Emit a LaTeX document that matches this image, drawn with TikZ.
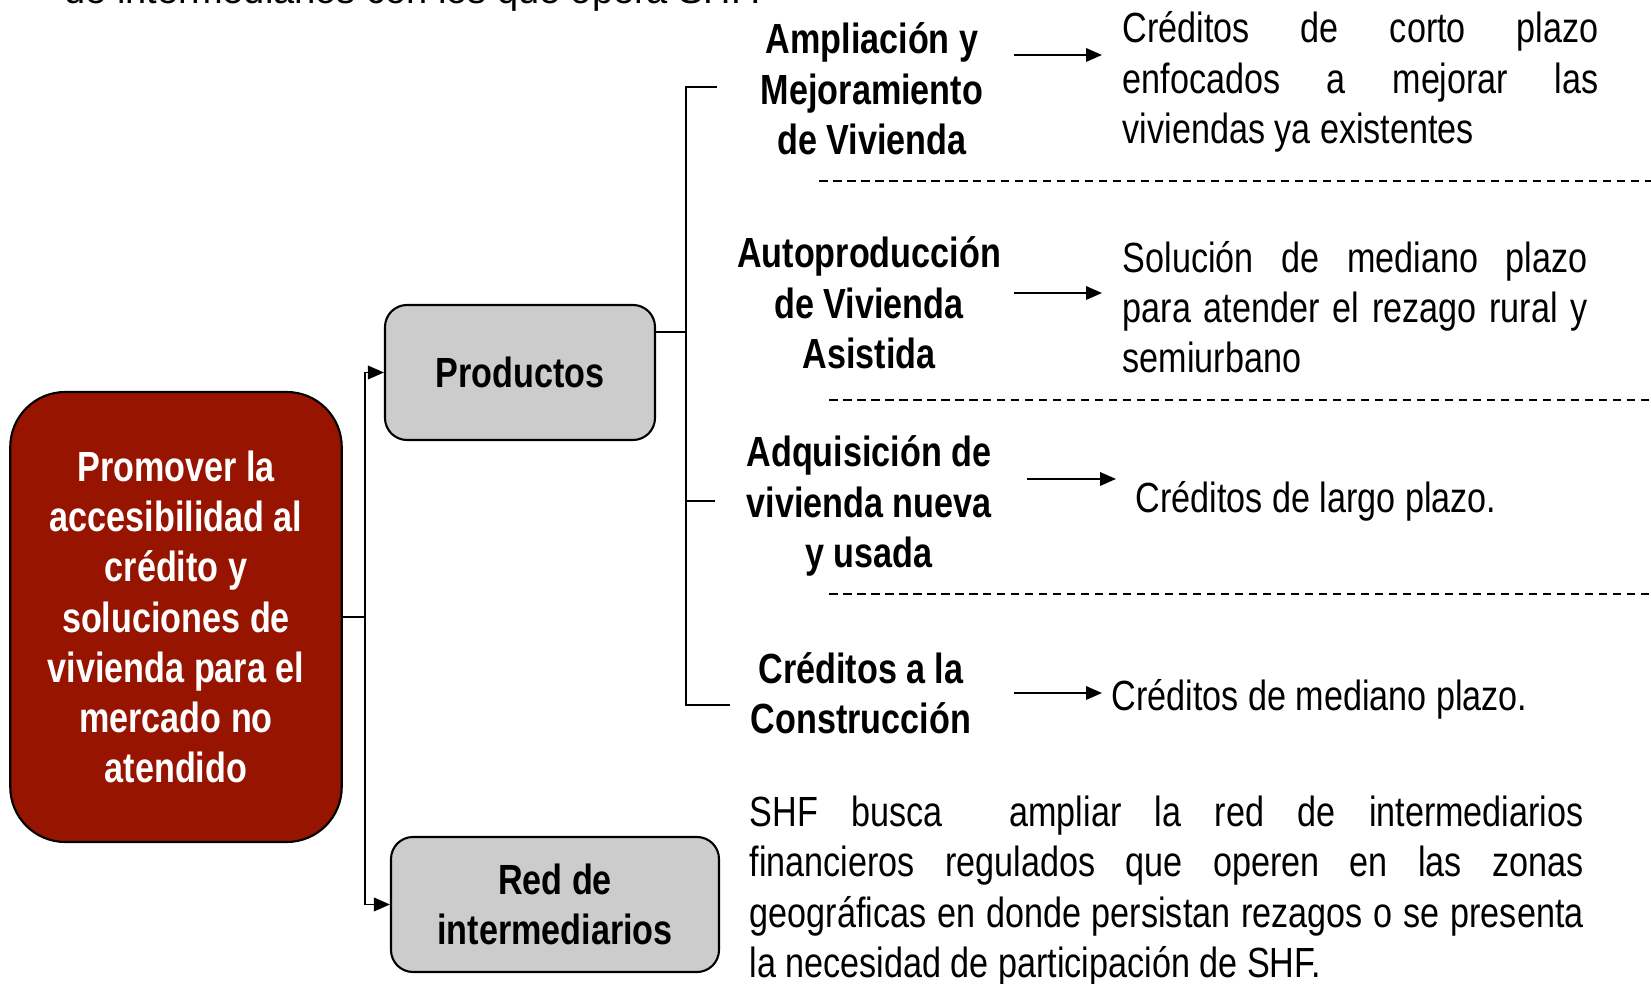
\documentclass[tikz,border=0pt]{standalone}
\usepackage{fontspec}
\setmainfont{Liberation Sans}[FakeStretch=0.81]
\newfontfamily\widefont{Liberation Sans}
\usetikzlibrary{positioning,arrows.meta}
\definecolor{shfred}{RGB}{150,20,0}
\definecolor{boxgray}{RGB}{204,204,204}

\begin{document}
\begin{tikzpicture}[x=0.1mm,y=-0.1mm,
  font=\fontsize{12}{14.3}\selectfont,
  cat/.style={font=\fontsize{12}{14.3}\selectfont\bfseries, align=center, inner sep=0pt},
  desc/.style={align=justify, inner sep=0pt, anchor=west},
  box/.style={draw, line width=0.6pt, rounded corners=2.2mm, fill=boxgray,
    font=\fontsize{12}{14.3}\selectfont\bfseries, align=center},
  arr/.style={line width=0.55pt, -{Triangle[length=1.6mm,width=1.35mm]}},
  line/.style={line width=0.55pt},
  sep/.style={line width=0.45pt, dash pattern=on 0.85mm off 0.55mm}]
\useasboundingbox (0,0) rectangle (1651,984);

% Define nodes
\node[font=\widefont\fontsize{10.8}{13}\selectfont, anchor=base west, inner sep=0pt]
  (intro) at (64,4) {de intermediarios con los que opera SHF.};
\node[draw, line width=0.6pt, fill=shfred, text=white, rounded corners=5.5mm,
  minimum width=33.15mm, minimum height=45mm, align=center,
  font=\fontsize{12}{14.3}\selectfont\bfseries]
  (prom) at (176,617) {Promover la\\accesibilidad al\\crédito y\\soluciones de\\vivienda para el\\mercado no\\atendido};
\node[box, minimum width=27mm, minimum height=13.5mm] (prod) at (520,372.5) {\raisebox{-0.35mm}{Productos}};
\node[box, minimum width=32.8mm, minimum height=13.5mm] (red) at (555,904.5) {Red de\\intermediarios};

\node[cat] (amp)  at (872,89)  {Ampliación y\\Mejoramiento\\de Vivienda};
\node[cat] (auto) at (869,303) {Autoproducción\\de Vivienda\\Asistida};
\node[cat] (adq)  at (869,506) {Adquisición de\\vivienda nueva\\y usada};
\node[cat] (cons) at (861,693) {Créditos a la\\Construcción};

\node[desc, text width=47.6mm] (d1) at (1122,82)
  {Créditos de corto plazo\linebreak enfocados a mejorar las\linebreak viviendas ya existentes};
\node[desc, text width=46.5mm] (d2) at (1122,307)
  {Solución de mediano plazo\linebreak para atender el rezago rural y\linebreak semiurbano};
\node[desc] (d3) at (1135,501) {Créditos de largo plazo.};
\node[desc] (d4) at (1111,699) {Créditos de mediano plazo.};
\node[desc, text width=83.4mm] (shf) at (749,891)
  {SHF busca\ \ ampliar la red de intermediarios\linebreak financieros regulados que operen en las zonas\linebreak geográficas en donde persistan rezagos o se presenta\linebreak la necesidad de participación de SHF.};

% Bracket of products
\coordinate (b1) at (686,87);
\coordinate (b3) at (686,501);
\coordinate (b4) at (686,705);
\coordinate (t1) at (717,87);
\coordinate (t3) at (715,501);
\coordinate (t4) at (730,705);

% Arrow tails
\coordinate (a1) at (1014,55);
\coordinate (a2) at (1014,293);
\coordinate (a3) at (1027,479);
\coordinate (a4) at (1014,693);

% Connect the nodes
\draw[arr] (prom.east) -- ++(22,0) |- (prod.west);
\draw[arr] (prom.east) -- ++(22,0) |- (red.west);
\draw[line] ([yshift=4.05mm]prod.east) -- ([yshift=4.05mm]prod.east -| b1);
\draw[line] (t1) -- (b1) -- (b4) -- (t4);
\draw[line] (b3) -- (t3);

\draw[arr, shorten >=2mm]   (a1) -- (a1 -| d1.west);
\draw[arr, shorten >=2mm]   (a2) -- (a2 -| d2.west);
\draw[arr, shorten >=1.9mm] (a3) -- (a3 -| d3.west);
\draw[arr, shorten >=0.9mm] (a4) -- (a4 -| d4.west);

% Separators
\draw[sep] (819,181) -- (1651,181);
\draw[sep] (829,400) -- (1651,400);
\draw[sep] (829,594) -- (1651,594);

\end{tikzpicture}
\end{document}
